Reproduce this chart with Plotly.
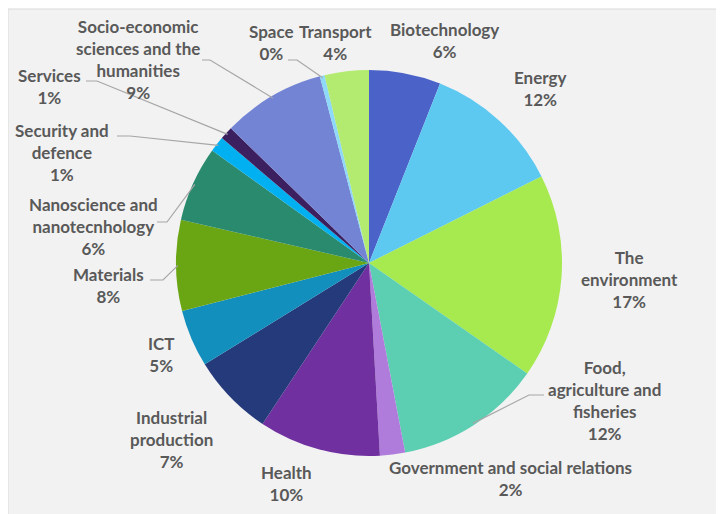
import math
import plotly.graph_objects as go

# ---- data ----
categories = [
    "Biotechnology", "Energy", "The environment", "Food, agriculture and fisheries",
    "Government and social relations", "Health", "Industrial production", "ICT",
    "Materials", "Nanoscience and nanotecnhology", "Security and defence", "Services",
    "Socio-economic sciences and the humanities", "Space", "Transport",
]
shares = [6.0, 11.6, 17.1, 12.3, 2.1, 10.2, 6.9, 4.8, 7.6, 6.3, 1.3, 1.1, 8.6, 0.4, 3.7]
display_labels = [
    "Biotechnology", "Energy", "The<br>environment", "Food,<br>agriculture and<br>fisheries",
    "Government and social relations", "Health", "Industrial<br>production", "ICT",
    "Materials", "Nanoscience and<br>nanotecnhology", "Security and<br>defence", "Services",
    "Socio-economic<br>sciences and the<br>humanities", "Space", "Transport",
]
colors = [
    "#4B63C9", "#5DC9F1", "#A6EA50", "#5CCFB3", "#B07CDB", "#7030A0", "#253A7B",
    "#138FBE", "#6AA614", "#2A8A6E", "#00B0F0", "#3B1F5F", "#7384D4", "#8ED8F8", "#B2EB70",
]

# ---- layout (page pixels) ----
PW, PH = 724, 514      # page size
OFF = 8                # default body margin of the html page
W, H = PW - OFF, PH - OFF
CX, CY, R = 369, 263, 193

# label block centres, in pie-radius units relative to the pie centre (y up)
label_pos = [
    (0.389, 1.155), (0.886, 0.902), (1.352, -0.083), (1.218, -0.715),
    (0.731, -1.119), (-0.425, -1.145), (-1.021, -0.912), (-1.073, -0.472),
    (-1.352, -0.119), (-1.430, 0.187), (-1.591, 0.570), (-1.653, 0.912),
    (-1.197, 1.052), (-0.503, 1.140), (-0.171, 1.140),
]
# leader lines: slice index -> (elbow, end) in page pixels
leaders = {
    3: ((529, 395), (544, 395)),
    8: ((163, 280), (150, 280)),
    9: ((167, 222), (157, 222)),
    10: ((130, 136), (117, 136)),
    11: ((97, 81), (86, 81)),
    12: ((210, 60), (202, 60)),
    13: ((297, 60), (288, 60)),
}


def to_paper(px, py):
    return (px - OFF) / W, (PH - py) / H


total = sum(shares)
fig = go.Figure(go.Pie(
    labels=categories,
    values=shares,
    sort=False,
    direction="clockwise",
    rotation=0,
    marker=dict(colors=colors, line=dict(width=0)),
    textinfo="none",
    hoverinfo="label+percent",
    showlegend=False,
    domain=dict(x=[(CX - R - OFF) / W, (CX + R - OFF) / W],
                y=[(PH - CY - R) / H, (PH - CY + R) / H]),
))

annotations = []
shapes = [dict(type="rect", xref="paper", yref="paper", x0=0.0, x1=1.02,
               y0=-0.02, y1=(PH - 9) / H, fillcolor="#F2F2F2",
               line=dict(color="#D9D9D9", width=1), layer="below")]

cum = 0.0
for i, (name, v) in enumerate(zip(display_labels, shares)):
    pct = v / total * 100
    mid = (cum + v / 2) / total * 2 * math.pi
    cum += v
    dx, dy = label_pos[i]
    px, py = CX + dx * R, CY - dy * R
    ax, ay = to_paper(px, py)
    annotations.append(dict(
        x=ax, y=ay, xref="paper", yref="paper", showarrow=False,
        text=f"<b>{name}<br>{pct:.0f}%</b>", align="center",
        xanchor="center", yanchor="middle",
        font=dict(family="Lato, Open Sans, sans-serif", size=17, color="#595959"),
    ))
    if i in leaders:
        ex, ey = CX + R * 0.99 * math.sin(mid), CY - R * 0.99 * math.cos(mid)
        (bx, by), (tx, ty) = leaders[i]
        p = [to_paper(ex, ey), to_paper(bx, by), to_paper(tx, ty)]
        path = f"M {p[0][0]} {p[0][1]} L {p[1][0]} {p[1][1]} L {p[2][0]} {p[2][1]}"
        shapes.append(dict(type="path", xref="paper", yref="paper", path=path,
                           line=dict(color="#A6A6A6", width=1.2)))

fig.update_layout(
    width=W, height=H,
    margin=dict(l=0, r=0, t=0, b=0),
    paper_bgcolor="white",
    plot_bgcolor="white",
    annotations=annotations,
    shapes=shapes,
)

fig.write_html("out.html")
